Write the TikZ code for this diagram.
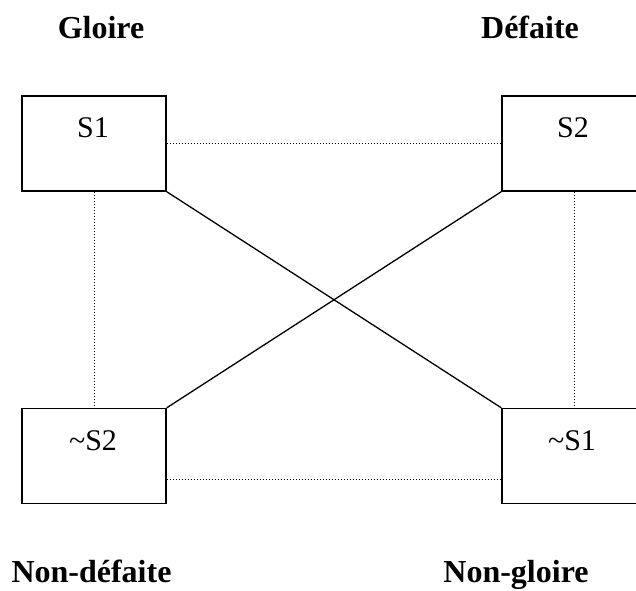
\documentclass[tikz,border=0pt]{standalone}
\usepackage{fontspec}
\setmainfont{Liberation Serif}
\begin{document}
\begin{tikzpicture}[x=1pt,y=-1pt,
  box/.style={draw,line width=1.3pt,minimum width=144pt,minimum height=95pt,inner sep=0pt},
  boxtext/.style={anchor=base,inner sep=0pt,font=\fontsize{30}{36}\selectfont},
  title/.style={anchor=base,inner sep=0pt,font=\fontsize{32}{38}\selectfont\bfseries},
  link/.style={line width=0.8pt,dash pattern=on 1pt off 2pt},
  cross/.style={line width=1.3pt}]
  \useasboundingbox (0,0) rectangle (636,590);
  % the four squares of the figure
  \node[box] (s1)  at (94,143.5) {};
  \node[box] (s2)  at (574,143.5) {};
  \node[box] (ns2) at (94,456) {};
  \node[box] (ns1) at (574,456) {};
  % their texts
  \node[boxtext] (t1)  at (93,137) {S1};
  \node[boxtext] (t2)  at (573,137) {S2};
  \node[boxtext] (tn2) at (93,450) {\textasciitilde S2};
  \node[boxtext] (tn1) at (572,450) {\textasciitilde S1};
  % corner headings
  \node[title] (g)  at (101,38)  {Gloire};
  \node[title] (d)  at (530,38)  {Défaite};
  \node[title] (nd) at (91.5,582) {Non-défaite};
  \node[title] (ng) at (516,582) {Non-gloire};
  % dotted relations
  \draw[link] (s1.east) -- (s2.west);
  \draw[link] ([yshift=-23pt]ns2.east) -- ([yshift=-23pt]ns1.west);
  \draw[link] (s1.south) -- (ns2.north);
  \draw[link] (s2.south) -- (ns1.north);
  % contradictions
  \draw[cross] (s1.south east) -- (ns1.north west);
  \draw[cross] (s2.south west) -- (ns2.north east);
\end{tikzpicture}
\end{document}
